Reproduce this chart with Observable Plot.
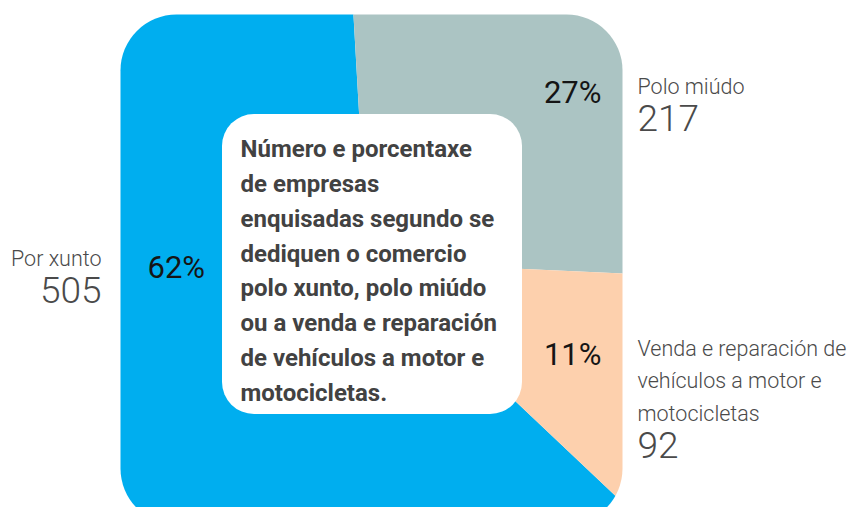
<!DOCTYPE html>
<html><head><meta charset="utf-8">
<script src="https://cdn.jsdelivr.net/npm/d3@7"></script>
<script src="https://cdn.jsdelivr.net/npm/@observablehq/plot@0.6"></script>
<style>html,body{margin:0;padding:0;background:#fff;} #chart svg{display:block}</style>
</head><body><div id="chart"></div>
<script>
// ---- data ----
const categories = ["Por xunto", "Polo miúdo", "Venda e reparación de vehículos a motor e motocicletas"];
const values = [505, 217, 92];
const nameLabels = ["Por xunto", "Polo miúdo", "Venda e reparación de\nvehículos a motor e\nmotocicletas"];
const colors = ["#00aeef", "#abc4c3", "#fdd0ad"];
const title = "Número e porcentaxe\nde empresas\nenquisadas segundo se\ndediquen o comercio\npolo xunto, polo miúdo\nou a venda e reparación\nde vehículos a motor e\nmotocicletas.";

// ---- layout ----
const W = 859, H = 507;
const center = {x: 367, y: 261};
const R = 440;
const startDeg = 133.4;
const card = {x1: 120, x2: 622, y1: 14, y2: 524, r: 56};
const box = {x1: 222, x2: 522, y1: 114, y2: 414, r: 32};
const anchors = [
  {x: 101, y: 302, anchor: "end",   px: 147, py: 277, panchor: "start"},
  {x: 637, y: 130, anchor: "start", px: 601, py: 102, panchor: "end"},
  {x: 637, y: 457, anchor: "start", px: 601, py: 364, panchor: "end"}
];
const font = "Roboto, 'Noto Sans', sans-serif";

const total = d3.sum(values);
const rad = Math.PI / 180;
const arcs = d3.pie().sort(null).value(d => d)
  .startAngle(startDeg * rad).endAngle((startDeg + 360) * rad)(values);
const polys = [];
arcs.forEach((a, i) => {
  polys.push({cat: categories[i], x: center.x, y: center.y});
  const n = Math.max(2, Math.ceil((a.endAngle - a.startAngle) / rad));
  for (let k = 0; k <= n; k++) {
    const t = a.startAngle + (a.endAngle - a.startAngle) * k / n;
    polys.push({cat: categories[i], x: center.x + R * Math.sin(t), y: center.y - R * Math.cos(t)});
  }
});

const idx = categories.map((_, i) => i);
const pct = i => Math.round(values[i] / total * 100) + "%";

const marks = [
  Plot.line(polys, {x: "x", y: "y", z: "cat", fill: "cat", stroke: "none"}),
  Plot.rect([box], {x1: "x1", x2: "x2", y1: "y1", y2: "y2", rx: box.r, ry: box.r, fill: "white"}),
  Plot.text([title], {x: 240, y: 400, text: d => d, textAnchor: "start", lineAnchor: "bottom",
    lineHeight: 1.448, fontSize: 24, fontWeight: "bold", fill: "#424242", fontFamily: font})
];
idx.forEach(i => {
  const a = anchors[i];
  marks.push(Plot.text([i], {x: () => a.px, y: () => a.py, text: pct, textAnchor: a.panchor,
    lineAnchor: "bottom", fontSize: 31, fill: "#151515", fontFamily: font}));
  marks.push(Plot.text([i], {x: () => a.x, y: () => a.y - 37, text: j => nameLabels[j], textAnchor: a.anchor,
    lineAnchor: "bottom", lineHeight: 1.5, fontSize: 21.5, fontWeight: 300, fill: "#4a4a4a", fontFamily: font}));
  marks.push(Plot.text([i], {x: () => a.x, y: () => a.y, text: j => String(values[j]), textAnchor: a.anchor,
    lineAnchor: "bottom", fontSize: 37, fontWeight: 300, fill: "#4a4a4a", fontFamily: font}));
});

const chart = Plot.plot({
  width: W, height: H, margin: 0,
  x: {domain: [0, W], range: [0, W], axis: null},
  y: {domain: [0, H], range: [0, H], axis: null},
  color: {type: "ordinal", domain: categories, range: colors},
  style: {background: "#fff", fontFamily: font, overflow: "visible"},
  marks
});

// clip the pie to the rounded card
const ns = "http://www.w3.org/2000/svg";
const sx = chart.scale("x"), sy = chart.scale("y");
const defs = document.createElementNS(ns, "defs");
const cp = document.createElementNS(ns, "clipPath");
cp.setAttribute("id", "cardclip");
const cr = document.createElementNS(ns, "rect");
cr.setAttribute("x", sx.apply(card.x1));
cr.setAttribute("y", sy.apply(card.y1));
cr.setAttribute("width", sx.apply(card.x2) - sx.apply(card.x1));
cr.setAttribute("height", sy.apply(card.y2) - sy.apply(card.y1));
cr.setAttribute("rx", card.r);
cr.setAttribute("ry", card.r);
cp.appendChild(cr);
defs.appendChild(cp);
chart.insertBefore(defs, chart.firstChild);
const lineG = chart.querySelector('g[aria-label="line"]');
if (lineG) lineG.setAttribute("clip-path", "url(#cardclip)");

document.getElementById("chart").appendChild(chart);
</script>
</body></html>
